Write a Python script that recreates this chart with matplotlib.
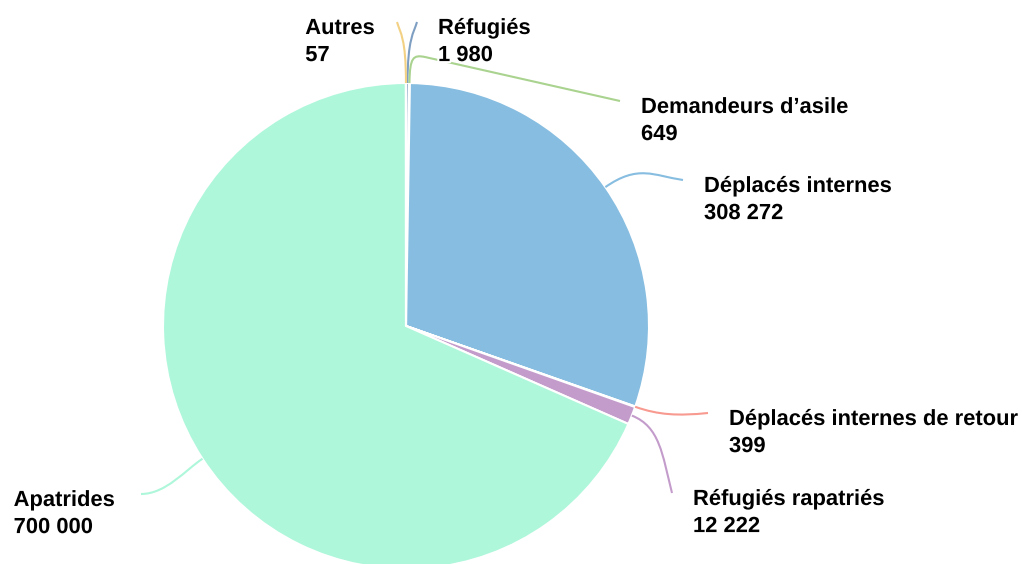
import numpy as np
import matplotlib
matplotlib.use("Agg")
import matplotlib.pyplot as plt
import matplotlib.patheffects as pe
from matplotlib.path import Path
from matplotlib.patches import PathPatch

# Données
categories = ["Réfugiés", "Demandeurs d’asile", "Déplacés internes",
              "Déplacés internes de retour", "Réfugiés rapatriés", "Apatrides", "Autres"]
values = [1980, 649, 308272, 399, 12222, 700000, 57]
colors = ["#7f9fc2", "#a9d38f", "#86bde0", "#f89a90", "#c49ccc", "#aef7db", "#f2d184"]

# Mise en page (pixels) : fin des connecteurs, tangente de fin, côté
label_ends = [(417, 22), (620, 101), (683, 180), (708, 413), (672, 493), (141, 494), (397, 22)]
end_dirs = [(0.3, -1), (1, 0.2), (1, 0.15), (1, -0.1), (0.25, 1), (-1, 0), (-0.3, -1)]
radial_len = [45, 26, 40, 25, 30, 20, 45]
end_len = [12, 12, 30, 30, 40, 25, 12]
via_points = [None, (425, 57), None, None, None, None, None]
left_side = [False, False, False, False, False, True, True]
label_gap = [21, 21, 21, 21, 21, 26, 22]

center = (406, 326)
radius = 243


def fmt(v):
    return f"{v:,}".replace(",", " ")


fig = plt.figure(figsize=(10.22, 5.64), dpi=100)
ax = fig.add_axes([0, 0, 1, 1])

wedges, _ = ax.pie(values, colors=colors, center=center, radius=radius,
                   startangle=-90, counterclock=True,
                   wedgeprops=dict(edgecolor="white", linewidth=1.5))
ax.set_xlim(0, 1022)
ax.set_ylim(564, 0)
ax.set_aspect("equal")
ax.axis("off")

halo = [pe.withStroke(linewidth=3, foreground="white")]

for i, w in enumerate(wedges):
    mid = np.deg2rad((w.theta1 + w.theta2) / 2)
    u = np.array([np.cos(mid), np.sin(mid)])
    A = np.array(center) + radius * u
    E = np.array(label_ends[i], dtype=float)
    v = np.array(end_dirs[i], dtype=float)
    v = v / np.linalg.norm(v)
    target = np.array(via_points[i], dtype=float) if via_points[i] else E
    C1 = A + u * radial_len[i]
    C2 = target - v * end_len[i]
    verts = [A, C1, C2, target]
    codes = [Path.MOVETO, Path.CURVE4, Path.CURVE4, Path.CURVE4]
    if via_points[i]:
        verts.append(E)
        codes.append(Path.LINETO)
    ax.add_patch(PathPatch(Path(verts, codes), fill=False, edgecolor=colors[i], linewidth=1.5))

    txt = f"{categories[i]}\n{fmt(values[i])}"
    if left_side[i]:
        ax.text(E[0] - label_gap[i], E[1] - 4, txt, ha="right", va="top", multialignment="left",
                fontsize=15.8, fontweight="bold", family="Liberation Sans",
                linespacing=1.38, path_effects=halo)
    else:
        ax.text(E[0] + label_gap[i], E[1] - 4, txt, ha="left", va="top", multialignment="left",
                fontsize=15.8, fontweight="bold", family="Liberation Sans",
                linespacing=1.38, path_effects=halo)

fig.savefig("out.png", dpi=100)
